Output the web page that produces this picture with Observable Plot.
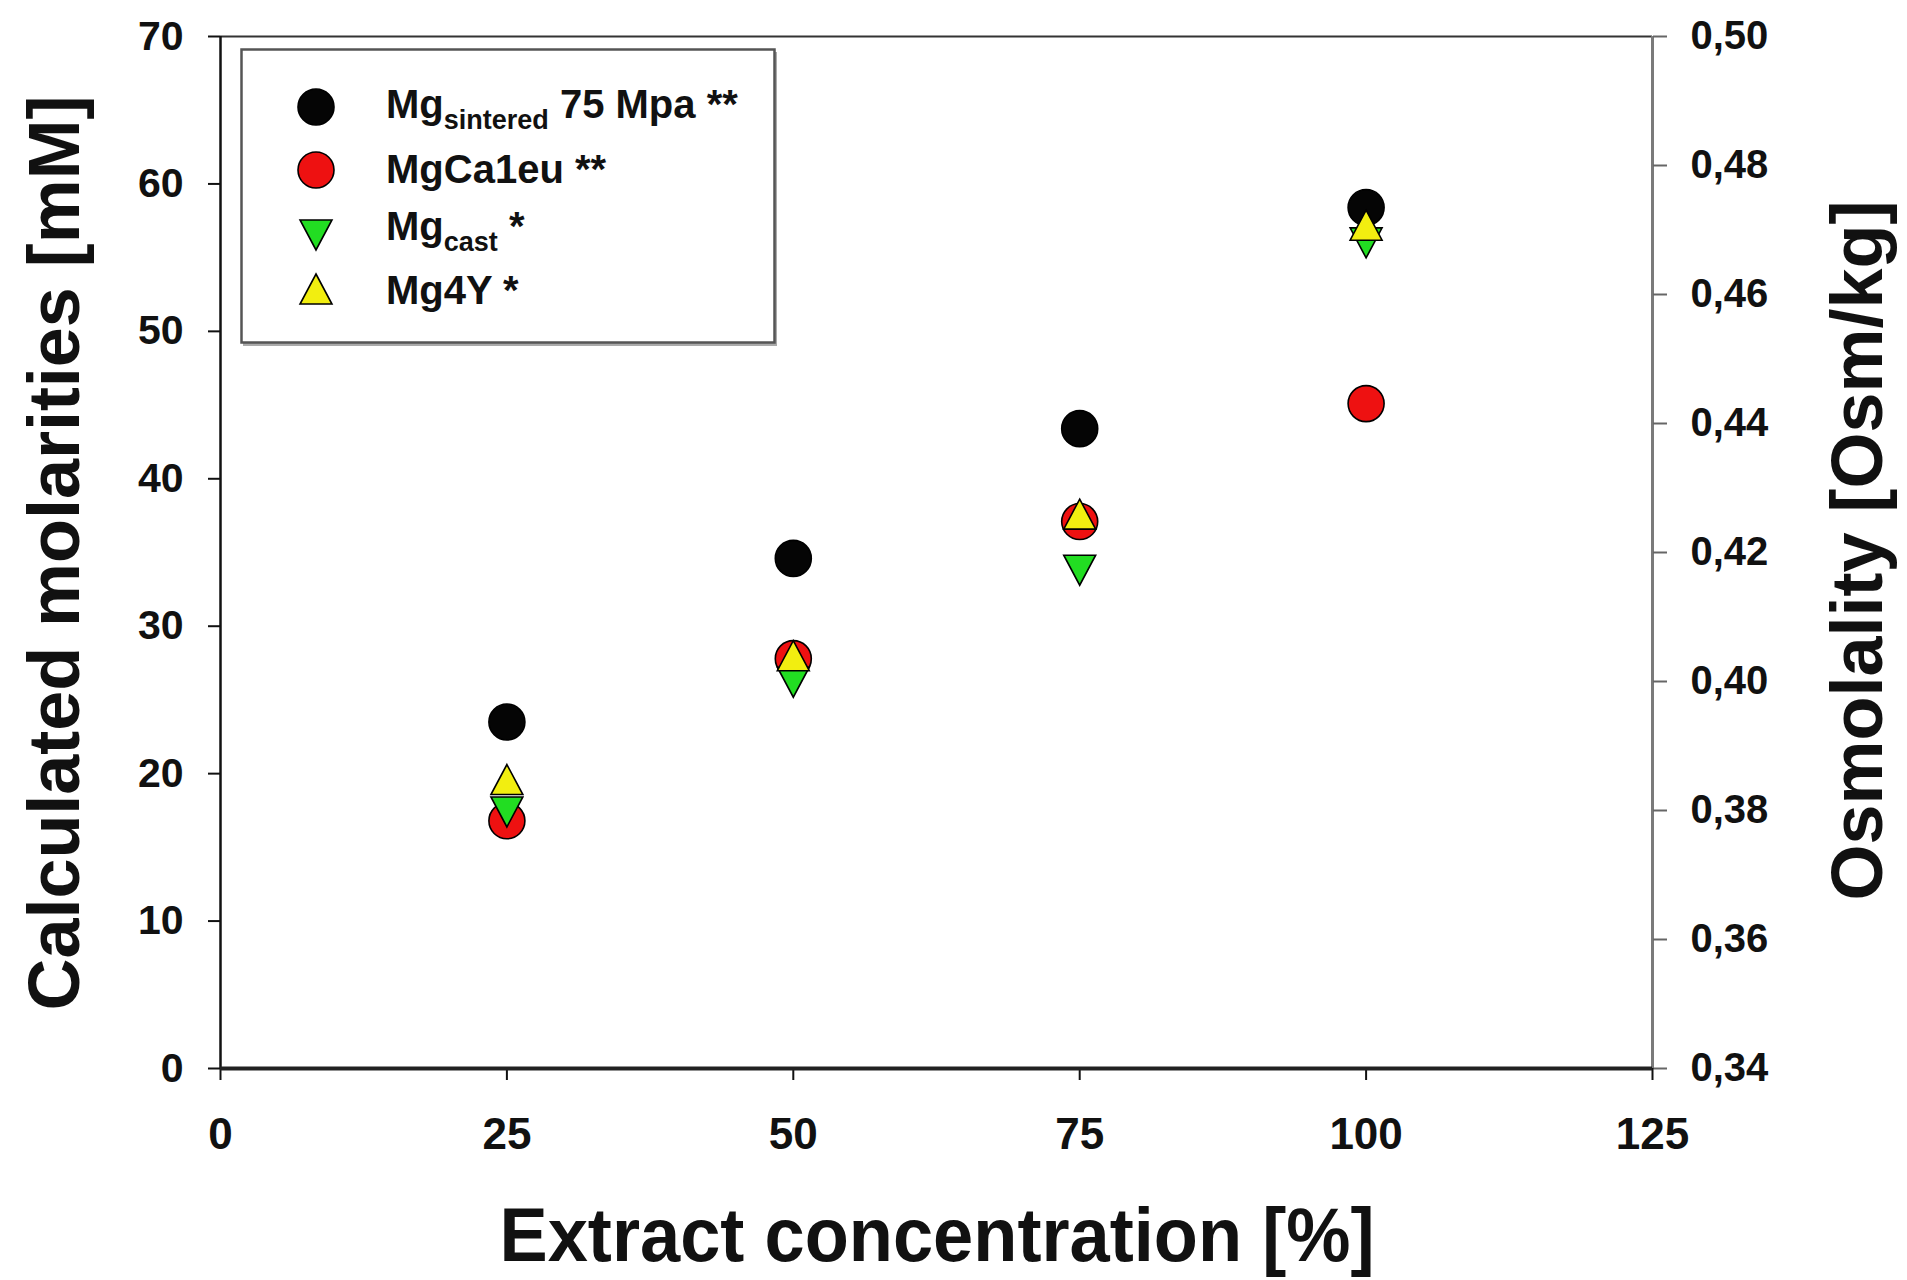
<!DOCTYPE html>
<html><head><meta charset="utf-8">
<script src="https://cdn.jsdelivr.net/npm/d3@7"></script>
<script src="https://cdn.jsdelivr.net/npm/@observablehq/plot@0.6"></script>
<style>
html,body{margin:0;padding:0;background:#fff;}
#wrap{position:relative;width:1907px;height:1280px;overflow:hidden;}
#legend{position:absolute;left:240px;top:48px;}
</style></head><body><div id="wrap"></div>
<script>
// ---- data ----
const concentrations = [25, 50, 75, 100];
const mgSintered = [23.5, 34.6, 43.4, 58.4];
const mgCa1eu    = [16.8, 27.8, 37.1, 45.1];
const mgCast     = [17.4, 26.2, 33.8, 56.0];
const mg4Y       = [19.6, 28.0, 37.6, 57.2];
const seriesKeys = ["sintered", "ca1eu", "cast", "mg4y"];
const xTicks = [0, 25, 50, 75, 100, 125];
const yTicks = [0, 10, 20, 30, 40, 50, 60, 70];
const osmTicks = [0.34, 0.36, 0.38, 0.40, 0.42, 0.44, 0.46, 0.48, 0.50];
const osmDomain = [0.34, 0.50];
const yDomain = [0, 70];
const xDomain = [0, 125];

const toMM = o => (o - osmDomain[0]) / (osmDomain[1] - osmDomain[0]) * (yDomain[1] - yDomain[0]) + yDomain[0];
const fromMM = v => osmDomain[0] + (v - yDomain[0]) / (yDomain[1] - yDomain[0]) * (osmDomain[1] - osmDomain[0]);

const triUp = {draw(ctx, size) {const r = Math.sqrt(size / Math.PI); const w = r * 1.33, h = r * 1.25;
  ctx.moveTo(0, -h); ctx.lineTo(w, h); ctx.lineTo(-w, h); ctx.closePath();}};
const triDown = {draw(ctx, size) {const r = Math.sqrt(size / Math.PI); const w = r * 1.33, h = r * 1.25;
  ctx.moveTo(-w, -h); ctx.lineTo(w, -h); ctx.lineTo(0, h); ctx.closePath();}};

const series = [
  {key: "sintered", values: mgSintered, fill: "#050505", symbol: "circle", r: 18},
  {key: "ca1eu", values: mgCa1eu, fill: "#ee1111", symbol: "circle", r: 18},
  {key: "cast", values: mgCast, fill: "#22dd22", symbol: triDown, r: 12},
  {key: "mg4y", values: mg4Y, fill: "#f2ee10", symbol: triUp, r: 12}
];

const W = 1907, H = 1280, mL = 220, mR = 255, mT = 36, mB = 212;
const font = "'Liberation Sans', Arial, Helvetica, sans-serif";

const leftTitle = "Calculated molarities [mM]";
const rightTitle = "Osmolality [Osm/kg]";
const bottomTitle = "Extract concentration [%]";

const dotMarks = series.map(s => Plot.dot(concentrations.map((c, i) => ({x: c, y: s.values[i]})), {
  x: "x", y: "y", r: s.r, symbol: s.symbol, fill: s.fill, stroke: "#000", strokeWidth: 1.6
}));

const chart = Plot.plot({
  width: W, height: H,
  marginLeft: mL, marginRight: mR, marginTop: mT, marginBottom: mB,
  style: {fontFamily: font, background: "#fff", color: "#111", overflow: "visible"},
  x: {domain: xDomain},
  y: {domain: yDomain},
  marks: [
    Plot.ruleY([yDomain[1]], {stroke: "#333", strokeWidth: 2}),
    Plot.ruleX([xDomain[1]], {stroke: "#7a7a7a", strokeWidth: 3}),
    Plot.ruleX([xDomain[0]], {stroke: "#111", strokeWidth: 2.5}),
    Plot.axisY(yTicks, {anchor: "left", tickSize: 12, tickPadding: 25, fontSize: 41, fontWeight: "bold", strokeWidth: 2, label: null}),
    Plot.axisY(osmTicks.map(toMM), {anchor: "right", tickSize: 14, tickPadding: 24, fontSize: 40, fontWeight: "bold", stroke: "#666", strokeWidth: 2, label: null,
      tickFormat: d => fromMM(d).toFixed(2).replace(".", ",")}),
    Plot.axisX(xTicks, {anchor: "bottom", tickSize: 12, tickPadding: 37, fontSize: 44, fontWeight: "bold", strokeWidth: 2, label: null}),
    Plot.ruleY([yDomain[0]], {stroke: "#222", strokeWidth: 4}),
    ...dotMarks,
    Plot.text([leftTitle], {text: d => d, frameAnchor: "left", textAnchor: "start", dx: -165, dy: 458, rotate: -90, fontSize: 72, fontWeight: "bold", fill: "#111"}),
    Plot.text([rightTitle], {text: d => d, frameAnchor: "right", textAnchor: "start", dx: 206, dy: 348, rotate: -90, fontSize: 72, fontWeight: "bold", fill: "#111"}),
    Plot.text([bottomTitle], {text: d => d, frameAnchor: "bottom", textAnchor: "start", dx: -437, dy: 192, fontSize: 76, fontWeight: "bold", fill: "#111"})
  ]
});

// condense axis titles to the reference lengths
const titleLengths = {[leftTitle]: 915, [rightTitle]: 700, [bottomTitle]: 875};
d3.select(chart).selectAll("text").each(function() {
  const t = this.textContent;
  if (titleLengths[t]) d3.select(this).attr("textLength", titleLengths[t]).attr("lengthAdjust", "spacingAndGlyphs");
});

const wrap = document.getElementById("wrap");
wrap.appendChild(chart);

// ---- legend overlay ----
const legendRows = [
  {main: "Mg", sub: "sintered", rest: " 75 Mpa **", key: "sintered", sy: 59, by: 70},
  {main: "MgCa1eu **", sub: null, rest: "", key: "ca1eu", sy: 122, by: 135},
  {main: "Mg", sub: "cast", rest: " *", key: "cast", sy: 187, by: 192},
  {main: "Mg4Y *", sub: null, rest: "", key: "mg4y", sy: 241, by: 256}
];
const lg = d3.create("svg").attr("id", "legend").attr("width", 540).attr("height", 302)
  .style("font-family", font).style("overflow", "visible");
lg.append("rect").attr("x", 3).attr("y", 4).attr("width", 534).attr("height", 294).attr("fill", "#aaa");
lg.append("rect").attr("x", 1.5).attr("y", 1.5).attr("width", 533).attr("height", 293)
  .attr("fill", "#fff").attr("stroke", "#555").attr("stroke-width", 2.5);
legendRows.forEach(row => {
  const s = series.find(d => d.key === row.key);
  const g = lg.append("g").attr("transform", `translate(76,${row.sy})`);
  if (s.symbol === "circle") {
    g.append("circle").attr("r", s.r).attr("fill", s.fill).attr("stroke", "#000").attr("stroke-width", 1.6);
  } else {
    g.append("path").attr("d", d3.symbol(s.symbol, s.r * s.r * Math.PI)()).attr("fill", s.fill).attr("stroke", "#000").attr("stroke-width", 1.6);
  }
  const t = lg.append("text").attr("x", 146).attr("y", row.by).attr("font-size", 40).attr("font-weight", "bold").attr("fill", "#111");
  t.append("tspan").text(row.main);
  if (row.sub) {
    t.append("tspan").attr("dy", 11).attr("font-size", 27).text(row.sub);
    t.append("tspan").attr("dy", -11).text(row.rest);
  }
});
wrap.appendChild(lg.node());
</script></body></html>
